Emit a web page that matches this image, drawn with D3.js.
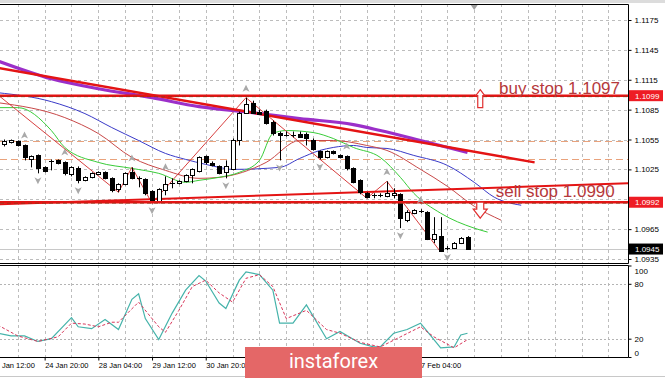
<!DOCTYPE html>
<html>
<head>
<meta charset="utf-8">
<script src="https://cdn.jsdelivr.net/npm/d3@7"></script>
<style>
  body { margin: 0; background: #fff; }
  svg { display: block; font-family: "Liberation Sans", Arial, sans-serif; }
</style>
</head>
<body>
<div id="chart"></div>
<script>
// H4 candles, bar 0 = 23 Jan 20:00
const open  = [1.1050,1.1052,1.1053,1.1049,1.1035,1.1039,1.1027,1.1033,1.1034,1.1032,1.1020,1.1026,1.1014,1.1017,1.1020,1.1022,1.1016,1.1005,1.1010,1.1022,1.1016,1.1015,1.1003,1.0993,1.1004,1.1011,1.1011,1.1013,1.1019,1.1023,1.1038,1.1031,1.1028,1.1022,1.1025,1.1054,1.1082,1.1092,1.1083,1.1084,1.1073,1.1062,1.1060,1.1060,1.1061,1.1061,1.1055,1.1043,1.1037,1.1043,1.1039,1.1038,1.1026,1.1014,1.1001,1.0999,1.0999,1.0998,1.0999,1.1000,1.0974,1.0981,1.0983,1.0982,1.0955,1.0958,1.0946,1.0946,1.0951,1.0957];
const high  = [1.1055,1.1055,1.1054,1.1050,1.1039,1.1040,1.1028,1.1035,1.1035,1.1033,1.1028,1.1028,1.1018,1.1022,1.1023,1.1023,1.1017,1.1011,1.1022,1.1027,1.1018,1.1016,1.1004,1.1006,1.1018,1.1016,1.1014,1.1020,1.1026,1.1038,1.1039,1.1033,1.1029,1.1034,1.1056,1.1083,1.1097,1.1094,1.1085,1.1085,1.1074,1.1063,1.1063,1.1063,1.1063,1.1062,1.1056,1.1044,1.1044,1.1044,1.1040,1.1039,1.1027,1.1015,1.1002,1.1001,1.1001,1.1013,1.1006,1.1001,1.0984,1.0985,1.0985,1.0983,1.0977,1.0977,1.0948,1.0952,1.0957,1.0958];
const low   = [1.1048,1.1051,1.1048,1.1034,1.1027,1.1021,1.1022,1.1024,1.1030,1.1019,1.1018,1.1011,1.1013,1.1016,1.1019,1.1015,1.1002,1.1002,1.1009,1.1015,1.1007,1.0999,1.0991,1.0991,1.0999,1.1006,1.1010,1.1012,1.1011,1.1022,1.1030,1.1028,1.1020,1.1016,1.1024,1.1049,1.1081,1.1081,1.1080,1.1070,1.1059,1.1034,1.1058,1.1057,1.1057,1.1049,1.1044,1.1035,1.1036,1.1040,1.1036,1.1024,1.1011,1.1000,1.0996,1.0996,1.0997,1.0997,1.0996,1.0966,1.0972,1.0980,1.0981,1.0954,1.0951,1.0942,1.0944,1.0945,1.0950,1.0945];
const close = [1.1053,1.1054,1.1049,1.1037,1.1038,1.1026,1.1023,1.1033,1.1031,1.1021,1.1027,1.1014,1.1017,1.1021,1.1022,1.1016,1.1004,1.1010,1.1021,1.1016,1.1016,1.1001,1.0992,1.1005,1.1010,1.1011,1.1013,1.1019,1.1025,1.1037,1.1032,1.1029,1.1021,1.1028,1.1055,1.1082,1.1091,1.1082,1.1081,1.1072,1.1062,1.1060,1.1060,1.1060,1.1058,1.1057,1.1045,1.1037,1.1043,1.1041,1.1037,1.1026,1.1012,1.1002,1.0997,1.0999,1.0999,1.1001,1.1001,1.0976,1.0982,1.0984,1.0983,1.0955,1.0960,1.0943,1.0946,1.0951,1.0956,1.0945];

// indicator lines as [bar, value]
const slowMA = [[-1,1.1134],[7,1.1116],[14,1.1106],[22,1.1097],[29,1.1088],[37,1.1082],[44,1.1076],[52,1.1070],[56,1.1064],[62,1.1054],[69,1.1042]];
const jaw   = [[-1,1.1102],[7,1.1093],[12,1.1081],[16,1.1067],[20,1.1054],[24,1.1041],[27,1.1035],[30,1.1030],[32,1.1027],[34,1.1025],[41,1.1027],[44,1.1036],[47,1.1044],[49,1.1047],[52,1.1049],[54,1.1047],[57,1.1046],[61,1.1039],[66,1.1029],[70,1.1012],[73,1.0997],[77,1.0989]];
const teeth = [[-1,1.1092],[9,1.1077],[14,1.1061],[19,1.1037],[24,1.1024],[29,1.1016],[32,1.1017],[39,1.1032],[44,1.1054],[49,1.1054],[54,1.1049],[57,1.1044],[62,1.1025],[66,1.1008],[70,1.0988],[74,1.0974]];
const lips  = [[-1,1.1087],[2,1.1087],[7,1.1064],[9,1.1047],[14,1.1032],[19,1.1026],[23,1.1021],[27,1.1012],[29,1.1014],[32,1.1017],[35,1.1022],[38,1.1034],[40,1.1061],[42,1.1064],[46,1.1062],[49,1.1056],[52,1.1047],[56,1.1037],[59,1.1017],[61,1.1001],[65,1.0981],[70,1.0966],[72,1.0962]];
const zigzag = [[-1,1.1100],[17,1.1002],[19,1.1027],[22,1.0991],[36,1.1097],[54,1.0996],[57,1.1013],[65,1.0942]];

const fractalUp   = [3, 9, 19, 24, 36, 51, 57, 62];
const fractalDown = [5, 11, 22, 33, 41, 47, 59, 66];

// stochastic
const stochMain = [[-1,26],[1,23],[3,23],[5,17],[7,20],[10,43],[11,33],[13,31],[15,41],[17,30],[19,63],[20,69],[21,42],[23,19],[25,48],[27,73],[29,89],[30,83],[32,59],[33,53],[35,84],[36,93],[38,90],[40,73],[41,37],[43,37],[45,57],[48,20],[50,28],[53,15],[55,11],[56,11],[58,26],[60,30],[62,37],[63,28],[65,10],[67,11],[68,24],[69,26]];
const stochSignal = [[-1,35],[2,23],[5,17],[8,22],[10,37],[12,36],[14,33],[16,38],[17,38],[20,60],[23,33],[24,27],[26,51],[28,77],[30,84],[32,70],[34,60],[36,86],[38,90],[40,77],[42,42],[45,51],[48,30],[50,26],[53,16],[56,11],[59,22],[62,33],[64,22],[67,10],[69,19]];
const stochLevels = [20, 80];
const stochTicks = [0, 20, 80, 100];

// objects
const buyStop = 1.1099, sellStop = 1.0992, bid = 1.0945;
const zoneLines = [1.1053, 1.1035];
const trendDown = [[-1,1.1127],[79,1.1032]];
const trendUp = [[-1,1.0990],[93,1.1011]];
const buyText = {bar: 73.7, price: 1.1101, text: "buy stop 1.1097"};
const sellText = {bar: 73.2, price: 1.0997, text: "sell stop 1.0990"};
const buyArrow = {bar: 70.9, price: 1.1105};
const sellArrow = {bar: 70.9, price: 1.0976};

const priceTicks = d3.range(9).map(k => +(1.0935 + k * 0.003).toFixed(4));
const tickLabels = ["23 Jan 12:00","24 Jan 20:00","28 Jan 04:00","29 Jan 12:00","30 Jan 20:00","3 Feb 04:00","4 Feb 12:00","5 Feb 20:00","7 Feb 04:00"];

// bar times (skip weekends), index k -> bar k-2
const fmt = d3.timeFormat("%-d %b %H:%M");
const barTimes = [];
let t = new Date(2020, 0, 23, 12);
for (let k = 0; k < 100; k++) {
  barTimes.push(t);
  t = d3.timeHour.offset(t, 4);
  while (t.getDay() === 0 || t.getDay() === 6) t = d3.timeHour.offset(t, 4);
}
const tickIdx = tickLabels.map(l => barTimes.findIndex(d => fmt(d) === l) - 2);

const width = 665, height = 378;
const plotR = 628, mainTop = 4, mainBot = 263, oscTop = 265, oscBot = 357;

const svg = d3.select("#chart").append("svg").attr("width", width).attr("height", height);

const x = d3.scaleLinear().domain([0, 69]).range([4.375, 467.5]);
const y = d3.scaleLinear().domain([1.0935, 1.1175]).range([259, 20]);
const ys = d3.scaleLinear().domain([0, 100]).range([oscBot, oscTop + 0.5]);

svg.append("rect").attr("width", width).attr("height", 3).attr("fill", "#dcdcdc");

const defs = svg.append("defs");
defs.append("clipPath").attr("id", "clipMain").append("rect")
  .attr("x", 0).attr("y", mainTop).attr("width", plotR).attr("height", mainBot - mainTop);
defs.append("clipPath").attr("id", "clipOsc").append("rect")
  .attr("x", 0).attr("y", oscTop).attr("width", plotR).attr("height", oscBot - oscTop);

const main = svg.append("g").attr("clip-path", "url(#clipMain)");
const osc = svg.append("g").attr("clip-path", "url(#clipOsc)");

// grid
const gridIdx = d3.range(-2, 93, 4);
[[main, mainTop, mainBot], [osc, oscTop, oscBot]].forEach(([g, t0, t1]) => {
  g.append("g").selectAll("line").data(gridIdx).enter().append("line")
    .attr("x1", d => Math.round(x(d)) + 0.5).attr("x2", d => Math.round(x(d)) + 0.5)
    .attr("y1", t0).attr("y2", t1)
    .attr("stroke", "#bdbdbd").attr("stroke-dasharray", "3,3");
});
main.append("g").selectAll("line").data(priceTicks).enter().append("line")
  .attr("x1", 0).attr("x2", plotR)
  .attr("y1", d => Math.round(y(d)) + 0.5).attr("y2", d => Math.round(y(d)) + 0.5)
  .attr("stroke", "#bdbdbd").attr("stroke-dasharray", "3,3");

// bid line
main.append("line").attr("x1", 0).attr("x2", plotR)
  .attr("y1", Math.round(y(bid)) + 0.5).attr("y2", Math.round(y(bid)) + 0.5)
  .attr("stroke", "#c8c8c8");

// zone lines
main.append("g").selectAll("line").data(zoneLines).enter().append("line")
  .attr("x1", 0).attr("x2", plotR)
  .attr("y1", d => Math.round(y(d)) + 0.5).attr("y2", d => Math.round(y(d)) + 0.5)
  .attr("stroke", "#e9a27c").attr("stroke-width", 1.2).attr("stroke-dasharray", "7,4");

const curve = d3.line().x(d => x(d[0])).y(d => y(d[1])).curve(d3.curveMonotoneX);
const straight = d3.line().x(d => x(d[0])).y(d => y(d[1]));

main.append("path").attr("d", curve(jaw)).attr("fill", "none").attr("stroke", "#3a3ac8").attr("stroke-width", 1);
main.append("path").attr("d", curve(teeth)).attr("fill", "none").attr("stroke", "#c84848").attr("stroke-width", 1);
main.append("path").attr("d", curve(lips)).attr("fill", "none").attr("stroke", "#38cc38").attr("stroke-width", 1);
main.append("path").attr("d", straight(zigzag)).attr("fill", "none").attr("stroke", "#d84040").attr("stroke-width", 1);
main.append("path").attr("d", curve(slowMA)).attr("fill", "none").attr("stroke", "#9b2fc9").attr("stroke-width", 3.2);
main.append("path").attr("d", straight(trendDown)).attr("fill", "none").attr("stroke", "#e41414").attr("stroke-width", 2.4);
main.append("path").attr("d", straight(trendUp)).attr("fill", "none").attr("stroke", "#e41414").attr("stroke-width", 2);

// candles
const bars = d3.range(open.length).map(i => ({ i, o: open[i], h: high[i], l: low[i], c: close[i] }));
const cg = main.append("g");
bars.forEach(b => {
  const cx = Math.round(x(b.i));
  cg.append("line").attr("x1", cx + 0.5).attr("x2", cx + 0.5)
    .attr("y1", y(b.h)).attr("y2", y(b.l)).attr("stroke", "#000");
  if (b.o === b.c) {
    const yy = Math.round(y(b.o)) + 0.5;
    cg.append("line").attr("x1", cx - 2).attr("x2", cx + 3).attr("y1", yy).attr("y2", yy).attr("stroke", "#000");
  } else {
    const top = Math.round(y(Math.max(b.o, b.c))) + 0.5;
    const bot = Math.round(y(Math.min(b.o, b.c))) + 0.5;
    cg.append("rect").attr("x", cx - 1.5).attr("y", top).attr("width", 4).attr("height", Math.max(1, bot - top))
      .attr("fill", b.c > b.o ? "#fff" : "#000").attr("stroke", "#000");
  }
});

// stop levels
[buyStop, sellStop].forEach(p => {
  const yy = y(p);
  main.append("line").attr("x1", 0).attr("x2", plotR).attr("y1", yy).attr("y2", yy)
    .attr("stroke", "#e41414").attr("stroke-width", 2.6);
  main.append("line").attr("x1", 0).attr("x2", plotR).attr("y1", yy + 1).attr("y2", yy + 1)
    .attr("stroke", "#8a3a1a").attr("stroke-width", 1).attr("stroke-dasharray", "4,3").attr("opacity", 0.7);
});

// fractals
const upPath = "M0,-4L3.5,3L0,1.2L-3.5,3Z";
const dnPath = "M0,4L3.5,-3L0,-1.2L-3.5,-3Z";
main.append("g").selectAll("path").data(fractalUp).enter().append("path")
  .attr("d", upPath).attr("fill", "#a9a9a9")
  .attr("transform", i => `translate(${x(i)},${y(high[i]) - 9})`);
main.append("g").selectAll("path").data(fractalDown).enter().append("path")
  .attr("d", dnPath).attr("fill", "#a9a9a9")
  .attr("transform", i => `translate(${x(i)},${y(low[i]) + 7})`);

// texts
[buyText, sellText].forEach(d => {
  main.append("text").attr("x", x(d.bar)).attr("y", y(d.price))
    .attr("font-size", 17).attr("fill", "#b5393c").text(d.text);
});

// arrows
main.append("path").attr("d", "M0,0L4.5,6L2.5,6L2.5,18L-2.5,18L-2.5,6L-4.5,6Z")
  .attr("transform", `translate(${x(buyArrow.bar)},${y(buyArrow.price)})`)
  .attr("fill", "#fff").attr("stroke", "#e03030").attr("stroke-width", 1.2);
main.append("path").attr("d", "M0,0L7,-9L3.5,-9L3.5,-16L-3.5,-16L-3.5,-9L-7,-9Z")
  .attr("transform", `translate(${x(sellArrow.bar)},${y(sellArrow.price)})`)
  .attr("fill", "#fff").attr("stroke", "#e03030").attr("stroke-width", 1.2);

// chart shift marker
svg.append("path").attr("d", "M-3.5,0L3.5,0L0,5Z").attr("fill", "#a0a0a0")
  .attr("transform", `translate(${x(70)},${mainTop + 1})`);

// stochastic
osc.append("g").selectAll("line").data(stochLevels).enter().append("line")
  .attr("x1", 0).attr("x2", plotR)
  .attr("y1", d => Math.round(ys(d)) + 0.5).attr("y2", d => Math.round(ys(d)) + 0.5)
  .attr("stroke", "#b4b4b4").attr("stroke-dasharray", "2,2");
const sline = d3.line().x(d => x(d[0])).y(d => ys(d[1]));
osc.append("path").attr("d", sline(stochMain)).attr("fill", "none").attr("stroke", "#45b3aa").attr("stroke-width", 1.2);
osc.append("path").attr("d", sline(stochSignal)).attr("fill", "none").attr("stroke", "#d8365a").attr("stroke-width", 1).attr("stroke-dasharray", "3,2");

// frames
const frame = svg.append("g").attr("stroke", "#000").attr("fill", "none");
frame.append("path").attr("d", `M0,${mainTop + 0.5}H${plotR + 0.5}V${mainBot + 0.5}H0`);
frame.append("path").attr("d", `M0,${oscTop + 0.5}H${plotR + 0.5}V${oscBot + 0.5}H0`);

// price axis
const pAxis = svg.append("g").attr("transform", `translate(${plotR + 0.5},0)`)
  .call(d3.axisRight(y).tickValues(priceTicks).tickFormat(d3.format(".4f")).tickSize(3).tickPadding(3));
pAxis.select(".domain").remove();
pAxis.selectAll("text").attr("font-size", 8).attr("font-family", "Liberation Sans, Arial, sans-serif");

function priceTag(p, color) {
  const g = svg.append("g").attr("transform", `translate(${plotR + 1},${y(p)})`);
  g.append("rect").attr("x", 0).attr("y", -5.5).attr("width", 34).attr("height", 11).attr("fill", color);
  g.append("text").attr("x", 6).attr("y", 3).attr("font-size", 8).attr("fill", "#fff").text(d3.format(".4f")(p));
}
priceTag(buyStop, "#ee1c24");
priceTag(sellStop, "#ee1c24");
priceTag(bid, "#000");

// stochastic axis
const sAxis = svg.append("g").attr("transform", `translate(${plotR + 0.5},0)`)
  .call(d3.axisRight(ys).tickValues(stochTicks).tickSize(3).tickPadding(3));
sAxis.select(".domain").remove();
sAxis.selectAll("text").attr("font-size", 8).attr("font-family", "Liberation Sans, Arial, sans-serif")
  .attr("dy", d => d === 100 ? "0.95em" : d === 0 ? "-0.2em" : "0.32em");

// time axis
const tAxis = svg.append("g").attr("transform", `translate(0,${oscBot + 0.5})`)
  .call(d3.axisBottom(x).tickValues(tickIdx).tickFormat((d, k) => tickLabels[k]).tickSize(3).tickPadding(2));
tAxis.select(".domain").remove();
tAxis.selectAll("text").attr("font-size", 7.5).attr("text-anchor", "start")
  .attr("font-family", "Liberation Sans, Arial, sans-serif");

svg.append("line").attr("x1", 0).attr("x2", width).attr("y1", 376.5).attr("y2", 376.5).attr("stroke", "#c8c8c8");

// watermark
svg.append("rect").attr("x", 245).attr("y", 347).attr("width", 177).attr("height", 35).attr("fill", "#e46767");
svg.append("text").attr("x", 333.5).attr("y", 368).attr("text-anchor", "middle")
  .attr("font-family", "Roboto, sans-serif").attr("font-size", 20).attr("fill", "#fff").text("instaforex");
</script>
</body>
</html>
